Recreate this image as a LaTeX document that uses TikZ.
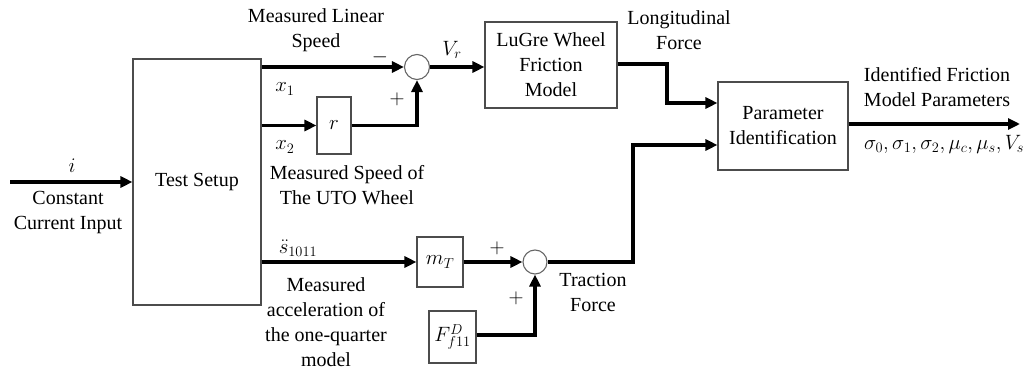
\documentclass[tikz,border=0pt]{standalone}
\usepackage{fontspec}
\setmainfont{Liberation Serif}
\newfontfamily\lserif{Liberation Serif}
\usetikzlibrary{arrows.meta,calc}
\begin{document}
\begin{tikzpicture}[x=1pt,y=-1pt,
  every node/.style={font=\lserif\fontsize{20}{25}\selectfont},
  blk/.style={draw=black!70,line width=1.1pt,rectangle,inner sep=0pt},
  sumc/.style={draw=black!60,line width=1.1pt,circle,inner sep=0pt,minimum size=25pt},
  sig/.style={line width=3.2pt,-{Triangle[length=12pt,width=11pt]}},
  lbl/.style={align=center,inner sep=0pt}]
\useasboundingbox (0,0) rectangle (1027,371);
% blocks
\node[blk,minimum width=128pt,minimum height=246pt] (ts) at (197,182) {Test Setup};
\node[sumc] (s1) at (417,67) {};
\node[blk,minimum width=132pt,minimum height=86pt,align=center] (lg) at (551,65) {LuGre Wheel\\Friction\\Model};
\node[blk,minimum width=34pt,minimum height=57pt] (rb) at (334,125.5) {$r$};
\node[blk,minimum width=46pt,minimum height=50pt] (mt) at (440,262) {$m_T$};
\node[blk,minimum width=47pt,minimum height=52pt] (fb) at (452.5,337) {$F_{f11}^{D}$};
\node[sumc,minimum size=24pt] (s2) at (535,262) {};
\node[blk,minimum width=130pt,minimum height=88pt,align=center] (pi) at (783,126) {Parameter\\Identification};
% coordinates
\coordinate (iin) at (10,182);
\coordinate (out) at (1020,124);
\coordinate (pin1) at ([yshift=23pt]pi.west);
\coordinate (pin2) at ([yshift=-19pt]pi.west);
% connectors
\draw[sig] (iin) -- (ts.west);
\draw[sig] (ts.east |- s1) -- (s1.west);
\draw[sig] (ts.east |- rb) -- (rb.west);
\draw[sig] (rb.east) -| (s1.south);
\draw[sig] (s1.east) -- (s1 -| lg.west);
\draw[sig] (lg.east |- 0,64) -- (667,64) |- (pin1);
\draw[sig] (ts.east |- mt) -- (mt.west);
\draw[sig] (mt.east) -- (s2.west);
\draw[sig] (fb.east |- 0,335) -| (s2.south);
\draw[sig] (s2.east) -- (633,262) |- (pin2);
\draw[sig] (pi.east |- out) -- (out);
% labels
\node[lbl] (l1) at (316,30) {Measured Linear\\Speed};
\node[lbl] (m1) at (380,57) {$-$};
\node[lbl] (vr) at (452,50) {$V_r$};
\node[lbl] (x1) at (285,89) {$x_1$};
\node[lbl] (p1) at (397,99) {$+$};
\node[lbl] (x2) at (285,147) {$x_2$};
\node[lbl] (l2) at (347,185.5) {Measured Speed of\\The UTO Wheel};
\node[lbl] (li) at (72,166) {$i$};
\node[lbl] (l3) at (68,212.5) {Constant\\Current Input};
\node[lbl] (sd) at (298,248) {$\ddot{s}_{1011}$};
\node[lbl] (l4) at (326,322.5) {Measured\\acceleration of\\the one-quarter\\model};
\node[lbl] (p2) at (497,248) {$+$};
\node[lbl] (p3) at (516,298) {$+$};
\node[lbl] (l5) at (593,292.5) {Traction\\Force};
\node[lbl] (l6) at (679,30) {Longitudinal\\Force};
\node[lbl] (l7) at (937,87.5) {Identified Friction\\Model Parameters};
\node[lbl] (l8) at (944,144) {$\sigma_0,\sigma_1,\sigma_2,\mu_c,\mu_s,V_s$};
\end{tikzpicture}
\end{document}
